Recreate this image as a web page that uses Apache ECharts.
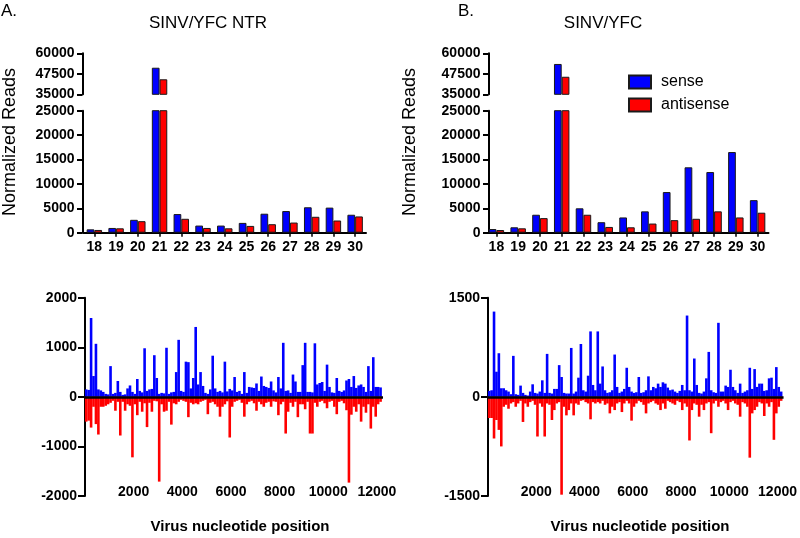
<!DOCTYPE html>
<html><head><meta charset="utf-8">
<script src="https://cdn.jsdelivr.net/npm/echarts@6/dist/echarts.min.js"></script>
<style>html,body{margin:0;padding:0;background:#fff}#c{width:800px;height:538px}</style>
</head><body><div id="c"></div>
<script>
// ---- Data ----
const lengths = ['18','19','20','21','22','23','24','25','26','27','28','29','30'];
const ntrSense     = [690, 970, 2640, 51200, 3820, 1460, 1460, 2010, 3890, 4440, 5210, 5140, 3680];
const ntrAntisense = [560, 900, 2360, 44150, 2850, 970, 900, 1390, 1740, 2080, 3260, 2500, 3330];
const yfcSense     = [750, 1110, 3680, 53500, 5000, 2150, 3125, 4375, 8330, 13400, 12430, 16530, 6670];
const yfcAntisense = [550, 900, 2990, 45700, 3680, 1180, 1110, 1875, 2570, 2850, 4375, 3125, 4100];

const upperTicks = [35000, 47500, 60000];
const posTicks = [2000, 4000, 6000, 8000, 10000, 12000];
const binSize = 100; // nucleotide bins 0-99, 100-199, ...

// Coverage per 100-nt bin (bins 0..121)
const ntrCovSense = [
 150,140,1590,420,1070,150,130,100,60,50,
 620,60,80,320,100,40,50,170,230,100,
 60,360,120,90,980,120,150,160,840,380,
 60,80,70,990,60,90,100,500,1150,120,
 100,710,700,170,380,1410,250,500,220,80,
 60,150,830,170,100,120,90,710,110,160,
 130,400,100,120,60,500,80,200,190,180,
 270,120,410,220,200,180,310,130,90,400,
 170,1090,120,130,80,450,310,100,100,640,
 1090,100,100,90,1080,250,280,300,120,650,
 200,90,80,380,120,100,130,330,360,200,
 420,180,230,250,200,100,620,120,800,200,
 200,190];
const ntrCovAntisense = [
 -500,-480,-620,-200,-550,-760,-200,-200,-180,-150,
 -120,-80,-280,-100,-780,-100,-280,-150,-180,-1220,
 -150,-370,-100,-300,-130,-610,-120,-300,-80,-90,
 -1710,-150,-300,-280,-100,-560,-130,-150,-100,-60,
 -80,-100,-410,-120,-150,-130,-150,-100,-80,-60,
 -350,-120,-100,-150,-200,-400,-200,-150,-90,-820,
 -200,-100,-80,-60,-120,-400,-150,-100,-80,-130,
 -280,-100,-150,-200,-120,-100,-200,-90,-100,-370,
 -150,-100,-740,-300,-120,-200,-100,-410,-150,-150,
 -250,-100,-740,-740,-120,-200,-100,-80,-130,-230,
 -100,-80,-200,-350,-100,-80,-130,-270,-1730,-360,
 -200,-300,-150,-500,-200,-320,-150,-640,-200,-400,
 -150,-100];
const yfcCovSense = [
 90,100,1290,380,660,130,130,100,80,40,
 620,40,30,170,60,30,20,80,190,60,
 50,80,250,60,650,60,50,120,120,480,
 300,60,50,50,740,50,80,290,800,100,
 80,320,990,180,100,990,200,460,100,60,
 70,100,640,150,60,80,120,440,150,80,
 60,70,300,60,70,100,310,100,150,130,
 200,150,220,200,140,100,110,80,60,90,
 180,100,1230,100,80,580,180,60,50,80,
 280,680,100,70,60,1120,80,80,170,150,
 410,150,100,60,200,60,80,100,440,120,
 420,150,200,200,90,100,280,290,120,450,
 150,80];
const yfcCovAntisense = [
 -320,-320,-630,-350,-500,-750,-150,-120,-180,-100,
 -80,-150,-100,-60,-380,-100,-150,-80,-60,-120,
 -600,-100,-150,-600,-100,-120,-350,-200,-100,-80,
 -1480,-150,-280,-200,-100,-280,-100,-120,-60,-50,
 -80,-100,-340,-80,-100,-80,-100,-60,-120,-100,
 -250,-150,-200,-100,-80,-230,-100,-60,-100,-360,
 -150,-100,-60,-80,-120,-250,-100,-80,-60,-100,
 -120,-200,-100,-180,-60,-80,-100,-120,-60,-80,
 -200,-100,-150,-660,-200,-100,-120,-300,-120,-200,
 -100,-80,-550,-100,-60,-150,-80,-60,-100,-200,
 -80,-60,-100,-120,-300,-80,-100,-150,-920,-250,
 -200,-150,-80,-100,-290,-100,-150,-80,-650,-250,
 -150,-60];

// ---- Helpers ----
const FONT = 'Liberation Sans, Arial, sans-serif';
const BLUE = '#0000ff', RED = '#ff0000';
const plain = v => String(v);
const bold14 = {fontFamily: FONT, fontWeight: 'bold', fontSize: 14, color: '#000', formatter: plain};
const pairs = arr => arr.map((v, i) => [i * binSize + binSize / 2, v]);
const onlyAbove = (arr, m) => arr.map(v => v >= m ? v : '-');

function catAxis(grid, visible) {
  return {type: 'category', gridIndex: grid, data: lengths, boundaryGap: true,
    show: visible,
    axisLine: {show: true, lineStyle: {color: '#000', width: 2}},
    axisTick: {show: true, alignWithLabel: true, length: 4, lineStyle: {color: '#000', width: 1.5}},
    axisLabel: Object.assign({}, bold14, {margin: 7, formatter: null})};
}
function yAx(grid, extra) {
  return Object.assign({type: 'value', gridIndex: grid, splitLine: {show: false},
    axisLine: {show: true, lineStyle: {color: '#000', width: 2}},
    axisTick: {show: true, length: 5.5, lineStyle: {color: '#000', width: 2}},
    axisLabel: Object.assign({margin: 8}, bold14)}, extra);
}
function posAxis(grid) {
  return {type: 'value', gridIndex: grid, min: 0, max: 12250,
    axisLine: {show: false}, axisTick: {show: false}, splitLine: {show: false},
    axisLabel: Object.assign({margin: -4, verticalAlign: 'middle', customValues: posTicks}, bold14)};
}
function barSer(name, x, y, data, color) {
  return {type: 'bar', name: name, xAxisIndex: x, yAxisIndex: y, data: data,
    barGap: '0%', barCategoryGap: '29%', clip: true,
    itemStyle: {color: color, borderColor: '#1a1a1a', borderWidth: 1}};
}
function covSer(name, x, y, data, color, zeroLine) {
  const s = {type: 'bar', name: name + ' coverage', xAxisIndex: x, yAxisIndex: y, data: pairs(data),
    barWidth: 2.6, barGap: '-100%', itemStyle: {color: color}, silent: true};
  if (zeroLine) {
    s.markLine = {silent: true, symbol: 'none', label: {show: false},
      lineStyle: {color: '#000', width: 2.5, type: 'solid'}, data: [{yAxis: 0}], animation: false};
  }
  return s;
}

const yUpper = {min: 35000, max: 60000,
  axisLabel: Object.assign({margin: 8, customValues: upperTicks}, bold14),
  axisTick: {show: true, length: 5.5, customValues: upperTicks, lineStyle: {color: '#000', width: 2}}};

const option = {
  animation: false,
  backgroundColor: '#fff',
  grid: [
    {left: 83.5, top: 53.3, width: 282.5, height: 41},
    {left: 83.5, top: 110.7, width: 282.5, height: 122},
    {left: 485.5, top: 53.3, width: 283, height: 41},
    {left: 485.5, top: 110.7, width: 283, height: 122},
    {left: 85, top: 297.7, width: 298, height: 198.3},
    {left: 488, top: 297.7, width: 297, height: 198.3}
  ],
  xAxis: [catAxis(0, false), catAxis(1, true), catAxis(2, false), catAxis(3, true), posAxis(4), posAxis(5)],
  yAxis: [
    yAx(0, Object.assign({offset: 1}, yUpper)),
    yAx(1, {offset: 1, min: 0, max: 25000, interval: 5000}),
    yAx(2, Object.assign({offset: -3}, yUpper)),
    yAx(3, {offset: -3, min: 0, max: 25000, interval: 5000}),
    yAx(4, {min: -2000, max: 2000, interval: 1000, axisTick: {show: true, length: 7, lineStyle: {color: '#000', width: 2}}}),
    yAx(5, {min: -1500, max: 1500, interval: 1500, axisTick: {show: true, length: 7, lineStyle: {color: '#000', width: 2}}})
  ],
  legend: {data: ['sense', 'antisense'], orient: 'vertical', left: 628, top: 74, padding: 0,
    icon: 'rect', itemWidth: 22, itemHeight: 13, itemGap: 7,
    textStyle: {fontFamily: FONT, fontSize: 16, color: '#000', padding: [0, 0, 0, 5]}},
  series: [
    barSer('sense', 0, 0, onlyAbove(ntrSense, 35000), BLUE),
    barSer('antisense', 0, 0, onlyAbove(ntrAntisense, 35000), RED),
    barSer('sense', 1, 1, ntrSense, BLUE),
    barSer('antisense', 1, 1, ntrAntisense, RED),
    barSer('sense', 2, 2, onlyAbove(yfcSense, 35000), BLUE),
    barSer('antisense', 2, 2, onlyAbove(yfcAntisense, 35000), RED),
    barSer('sense', 3, 3, yfcSense, BLUE),
    barSer('antisense', 3, 3, yfcAntisense, RED),
    covSer('sense', 4, 4, ntrCovSense, BLUE, false),
    covSer('antisense', 4, 4, ntrCovAntisense, RED, true),
    covSer('sense', 5, 5, yfcCovSense, BLUE, false),
    covSer('antisense', 5, 5, yfcCovAntisense, RED, true)
  ],
  graphic: [
    {type: 'text', left: 1, top: 3, style: {text: 'A.', font: '17px ' + FONT, fill: '#000'}},
    {type: 'text', left: 458, top: 3, style: {text: 'B.', font: '17px ' + FONT, fill: '#000'}},
    {type: 'text', x: 208, y: 23, style: {text: 'SINV/YFC NTR', font: '17px ' + FONT, fill: '#000', align: 'center', verticalAlign: 'middle'}},
    {type: 'text', x: 603, y: 23, style: {text: 'SINV/YFC', font: '17px ' + FONT, fill: '#000', align: 'center', verticalAlign: 'middle'}},
    {type: 'text', x: 10, y: 142, rotation: Math.PI / 2, style: {text: 'Normalized Reads', font: '18px ' + FONT, fill: '#000', align: 'center', verticalAlign: 'middle'}},
    {type: 'text', x: 410, y: 142, rotation: Math.PI / 2, style: {text: 'Normalized Reads', font: '18px ' + FONT, fill: '#000', align: 'center', verticalAlign: 'middle'}},
    {type: 'text', x: 240, y: 527, style: {text: 'Virus nucleotide position', font: 'bold 15px ' + FONT, fill: '#000', align: 'center', verticalAlign: 'middle'}},
    {type: 'text', x: 640, y: 527, style: {text: 'Virus nucleotide position', font: 'bold 15px ' + FONT, fill: '#000', align: 'center', verticalAlign: 'middle'}}
  ]
};
const chart = echarts.init(document.getElementById('c'), null, {renderer: 'canvas'});
chart.setOption(option);
</script>
</body></html>
